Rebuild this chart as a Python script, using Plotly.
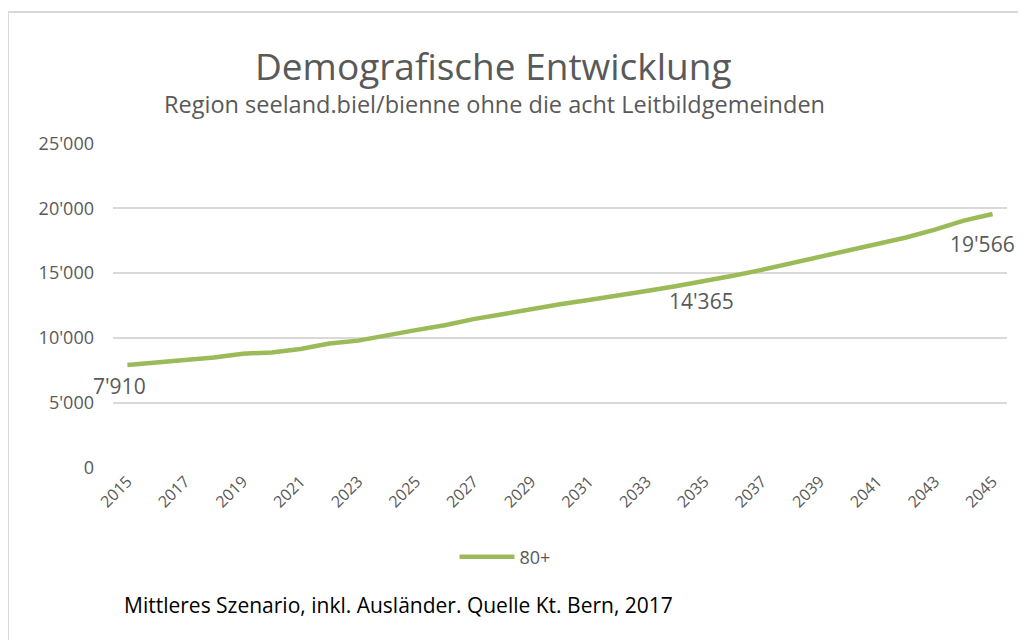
import plotly.graph_objects as go

years = list(range(2015, 2046))
values_80plus = [7910, 8120, 8350, 8480, 8780, 8880, 9150, 9560, 9790, 10220,
                 10600, 10980, 11450, 11820, 12230, 12600, 12930, 13250, 13620, 13990,
                 14365, 14800, 15250, 15750, 16200, 16680, 17250, 17750, 18350, 19050,
                 19566]
series_name = "80+"
label_years = [2015, 2035, 2045]
x_tick_years = list(range(2015, 2046, 2))
y_tick_vals = [0, 5000, 10000, 15000, 20000, 25000]
y_tick_text = ["0", "5'000", "10'000", "15'000", "20'000", "25'000"]

title_text = "Demografische Entwicklung"
subtitle_text = "Region seeland.biel/bienne ohne die acht Leitbildgemeinden"
footnote_text = "Mittleres Szenario, inkl. Ausländer. Quelle Kt. Bern, 2017"

FONT = "Open Sans"
GREY = "#595959"
GREEN = "#9BBB59"

OFF = 8  # default page body margin
W, H = 1026 - OFF, 640 - OFF
# plot area in page pixels: left 113, right 1007, top 143, bottom 468
L = 113 - OFF
T = 143 - OFF
R = W - (1007 - OFF)
B = H - (468 - OFF)
PW, PH = W - L - R, H - T - B


def px(x):
    return (x - OFF - L) / PW


def py(y):
    return (H - B - (y - OFF)) / PH


def fmt(v):
    return f"{v:,}".replace(",", "'")


fig = go.Figure()
fig.add_trace(go.Scatter(
    x=years, y=values_80plus, mode="lines", name=series_name,
    line=dict(color=GREEN, width=4.5),
))

shift = {2015: (-8, -21), 2035: (-3, -20), 2045: (-10, -30)}
for yr in label_years:
    v = values_80plus[years.index(yr)]
    dx, dy = shift[yr]
    fig.add_annotation(x=yr, y=v, text=fmt(v), showarrow=False,
                       xshift=dx, yshift=dy, xanchor="center", yanchor="middle",
                       font=dict(family=FONT, size=21, color=GREY))

fig.add_annotation(xref="paper", yref="paper", x=px(493), y=py(66),
                   text=title_text, showarrow=False, xanchor="center", yanchor="middle",
                   font=dict(family=FONT, size=37, color=GREY))
fig.add_annotation(xref="paper", yref="paper", x=px(494), y=py(104),
                   text=subtitle_text, showarrow=False, xanchor="center", yanchor="middle",
                   font=dict(family=FONT, size=23.5, color=GREY))
fig.add_annotation(xref="paper", yref="paper", x=px(122), y=py(605),
                   text=footnote_text, showarrow=False, xanchor="left", yanchor="middle",
                   font=dict(family=FONT, size=21, color="#000000"))

fig.add_shape(type="rect", xref="paper", yref="paper",
              x0=px(8), x1=px(1040), y0=py(660), y1=py(12),
              line=dict(color="#D9D9D9", width=2), layer="below")

fig.update_layout(
    width=W, height=H,
    margin=dict(l=L, r=R, t=T, b=B, autoexpand=False),
    paper_bgcolor="white", plot_bgcolor="white",
    showlegend=True,
    legend=dict(orientation="h", x=px(505), y=py(557), xanchor="center", yanchor="middle",
                font=dict(family=FONT, size=18, color=GREY), itemwidth=55),
    font=dict(family=FONT, color=GREY),
)
fig.update_xaxes(
    range=[2014.5, 2045.5], tickmode="array", tickvals=x_tick_years,
    ticktext=[str(y) for y in x_tick_years], tickangle=-45,
    tickfont=dict(family=FONT, size=16, color=GREY),
    showgrid=False, zeroline=False, showline=False, ticks="",
)
fig.update_yaxes(
    range=[-40, 25040], tickmode="array", tickvals=y_tick_vals, ticktext=y_tick_text,
    tickfont=dict(family=FONT, size=18, color=GREY),
    showgrid=True, gridcolor="#D9D9D9", gridwidth=1.5,
    zeroline=False, showline=False, ticks="", ticklabelstandoff=18,
)

fig.write_html("out.html")
